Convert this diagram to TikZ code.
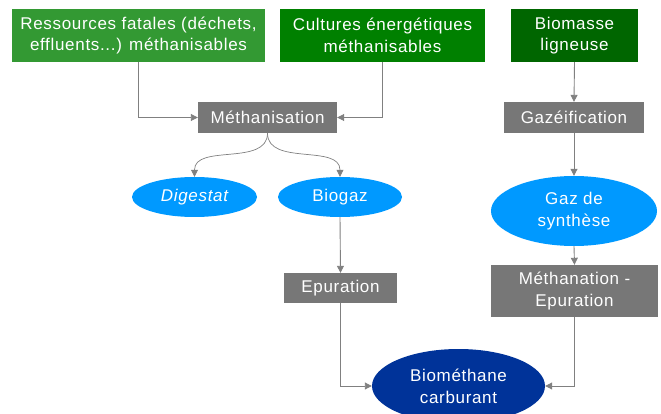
\documentclass[tikz,border=0pt]{standalone}
\usepackage{fontspec}
\setmainfont[LetterSpace=4]{Liberation Sans}
\usetikzlibrary{arrows.meta,shapes.geometric}
\definecolor{resgreen}{HTML}{339933}
\definecolor{culgreen}{HTML}{008000}
\definecolor{biogreen}{HTML}{006600}
\definecolor{boxgray}{HTML}{777777}
\definecolor{lightblue}{HTML}{0099FF}
\definecolor{darkblue}{HTML}{003399}
\definecolor{arrgray}{HTML}{808080}

\begin{document}
\begin{tikzpicture}[x=1pt,y=-1pt,
  txt/.style={text=white,font=\fontsize{17}{21.7}\selectfont,align=center,inner sep=0pt},
  greenbox/.style={txt,minimum height=53pt},
  graybox/.style={txt,fill=boxgray,minimum height=31pt},
  blueoval/.style={txt,ellipse,fill=lightblue},
  arr/.style={draw=arrgray,line width=0.9pt,-{Triangle[length=7pt,width=7pt]}}]
\useasboundingbox (0,0) rectangle (661,414);

%top row
\node[greenbox,fill=resgreen,minimum width=253pt] (res) at (138.5,35.5) {Ressources fatales (déchets,\\effluents...) méthanisables};
\node[greenbox,fill=culgreen,minimum width=205pt] (cult) at (382.5,35.5) {Cultures énergétiques\\méthanisables};
\node[greenbox,fill=biogreen,minimum width=127pt] (bio) at (574.5,35.5) {Biomasse\\ligneuse};

%process boxes
\node[graybox,minimum width=139pt] (meth) at (267.5,117.5) {Méthanisation};
\node[graybox,minimum width=140pt] (gazei) at (574,117.5) {Gazéification};
\node[graybox,minimum width=113pt,minimum height=30pt] (epur) at (340.5,288) {Epuration};
\node[graybox,minimum width=167pt,minimum height=52pt] (methn) at (574.5,291) {Méthanation -\\Epuration};

%ovals
\node[blueoval,minimum width=125pt,minimum height=40pt] (dig) at (194.5,197) {\itshape Digestat};
\node[blueoval,minimum width=124pt,minimum height=40pt] (biogaz) at (340,197) {Biogaz};
\node[blueoval,minimum width=166pt,minimum height=70pt] (syn) at (574,211) {Gaz de\\synthèse};
\node[txt,ellipse,fill=darkblue,minimum width=173pt,minimum height=74pt] (bch4) at (458.5,386) {Biométhane\\carburant};

%connectors
\draw[arr] (res.south) |- (meth.west);
\draw[arr] (cult.south) |- (meth.east);
\draw[arr] (bio.south) -- (gazei.north);
\draw[arr,line width=0.7pt] (meth.south) to[out=-90,in=90] (dig.north);
\draw[arr,line width=0.7pt] (meth.south) to[out=-90,in=90] (biogaz.north);
\draw[arr] (biogaz.south) -- (epur.north);
\draw[arr] (gazei.south) -- (syn.north);
\draw[arr] (syn.south) -- (methn.north);
\draw[arr] (epur.south) |- (bch4.west);
\draw[arr] (methn.south) |- (bch4.east);
\end{tikzpicture}
\end{document}
